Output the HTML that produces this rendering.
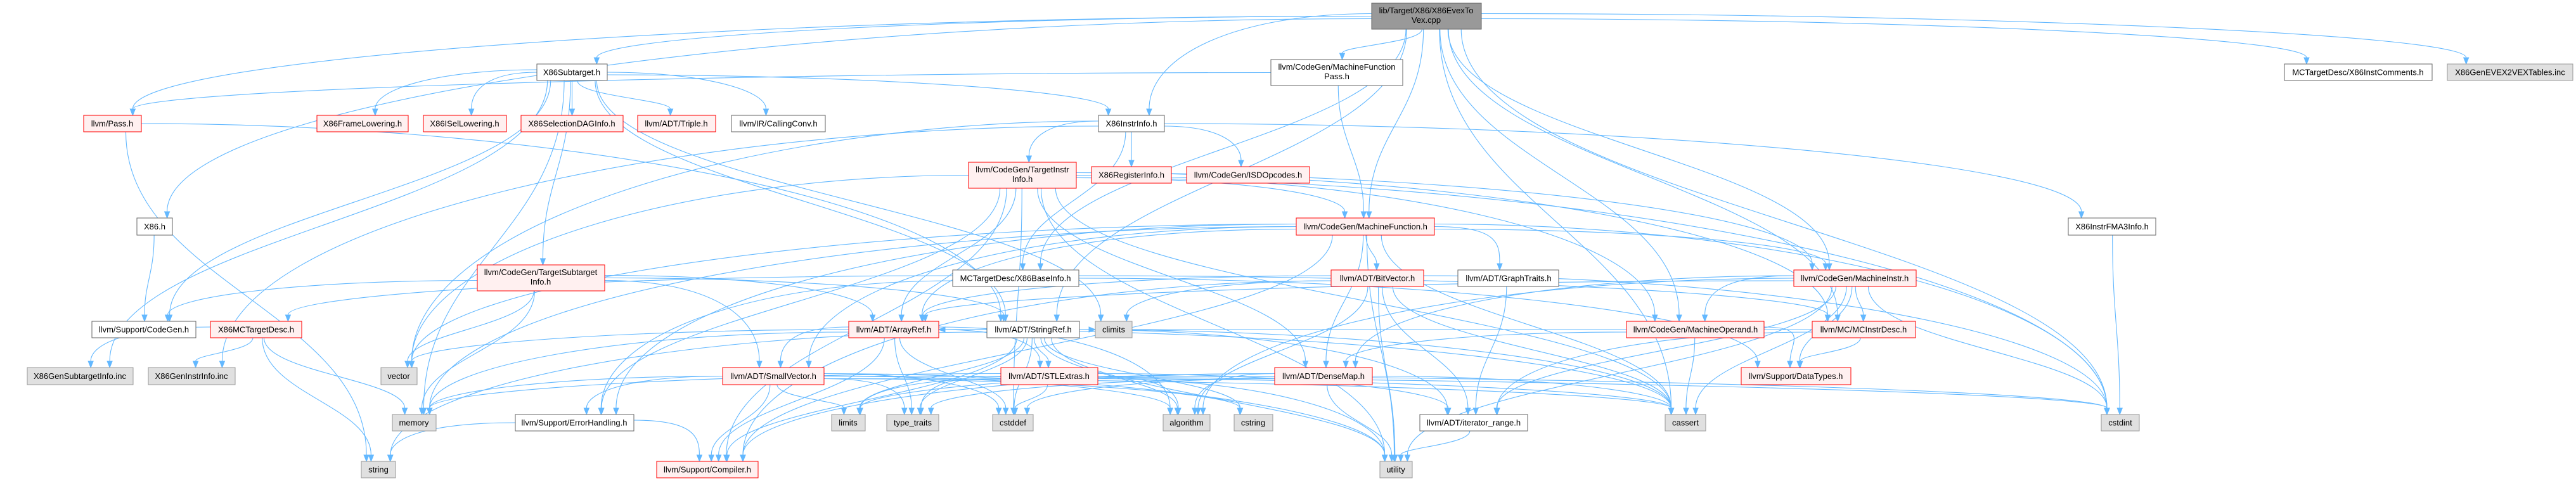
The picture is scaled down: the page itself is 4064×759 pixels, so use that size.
<!DOCTYPE html>
<html><head><meta charset="utf-8">
<style>
html,body{margin:0;padding:0;background:#fff;}
svg{display:block;}
text{font-family:"Liberation Sans",Arial,sans-serif;font-size:13px;fill:#000;}
</style></head>
<body>
<svg id="g" xmlns="http://www.w3.org/2000/svg" width="4064" height="759" viewBox="0 0 4064 759">
<g id="edges" fill="none" stroke="#63b8ff" stroke-width="1.1"></g>
<g id="arrows" fill="#63b8ff" stroke="#63b8ff"></g>
<g id="nodes" text-anchor="middle">
<rect x="2164" y="5" width="173" height="41" fill="#999999" stroke="#666666"/><text x="2250" y="21">lib/Target/X86/X86EvexTo</text><text x="2250" y="36">Vex.cpp</text>
<rect x="2005" y="94" width="208" height="41" fill="#ffffff" stroke="#666666"/><text x="2109" y="110">llvm/CodeGen/MachineFunction</text><text x="2109" y="125">Pass.h</text>
<rect x="847" y="101" width="111" height="26" fill="#ffffff" stroke="#666666"/><text x="902" y="118.5">X86Subtarget.h</text>
<rect x="3604" y="101" width="233" height="26" fill="#ffffff" stroke="#666666"/><text x="3720" y="118.5">MCTargetDesc/X86InstComments.h</text>
<rect x="3861" y="101" width="198" height="26" fill="#e0e0e0" stroke="#999999"/><text x="3960" y="118.5">X86GenEVEX2VEXTables.inc</text>
<rect x="132" y="182" width="91" height="26" fill="#fff0f0" stroke="#ff0000"/><text x="177" y="199.5">llvm/Pass.h</text>
<rect x="500" y="182" width="144" height="26" fill="#fff0f0" stroke="#ff0000"/><text x="572" y="199.5">X86FrameLowering.h</text>
<rect x="668" y="182" width="131" height="26" fill="#fff0f0" stroke="#ff0000"/><text x="733" y="199.5">X86ISelLowering.h</text>
<rect x="822" y="182" width="161" height="26" fill="#fff0f0" stroke="#ff0000"/><text x="902" y="199.5">X86SelectionDAGInfo.h</text>
<rect x="1006" y="182" width="123" height="26" fill="#fff0f0" stroke="#ff0000"/><text x="1067" y="199.5">llvm/ADT/Triple.h</text>
<rect x="1154" y="182" width="148" height="26" fill="#ffffff" stroke="#666666"/><text x="1228" y="199.5">llvm/IR/CallingConv.h</text>
<rect x="1733" y="182" width="104" height="26" fill="#ffffff" stroke="#666666"/><text x="1785" y="199.5">X86InstrInfo.h</text>
<rect x="1528" y="256" width="170" height="41" fill="#fff0f0" stroke="#ff0000"/><text x="1613" y="272">llvm/CodeGen/TargetInstr</text><text x="1613" y="287">Info.h</text>
<rect x="1722" y="263" width="126" height="26" fill="#fff0f0" stroke="#ff0000"/><text x="1785" y="280.5">X86RegisterInfo.h</text>
<rect x="1872" y="263" width="194" height="26" fill="#fff0f0" stroke="#ff0000"/><text x="1969" y="280.5">llvm/CodeGen/ISDOpcodes.h</text>
<rect x="216" y="344" width="56" height="27" fill="#ffffff" stroke="#666666"/><text x="244" y="362">X86.h</text>
<rect x="2045" y="344" width="218" height="27" fill="#fff0f0" stroke="#ff0000"/><text x="2154" y="362">llvm/CodeGen/MachineFunction.h</text>
<rect x="3263" y="344" width="138" height="27" fill="#ffffff" stroke="#666666"/><text x="3332" y="362">X86InstrFMA3Info.h</text>
<rect x="753" y="418" width="201" height="41" fill="#fff0f0" stroke="#ff0000"/><text x="853" y="434">llvm/CodeGen/TargetSubtarget</text><text x="853" y="449">Info.h</text>
<rect x="1503" y="426" width="199" height="26" fill="#ffffff" stroke="#666666"/><text x="1602" y="443.5">MCTargetDesc/X86BaseInfo.h</text>
<rect x="2100" y="426" width="146" height="26" fill="#fff0f0" stroke="#ff0000"/><text x="2173" y="443.5">llvm/ADT/BitVector.h</text>
<rect x="2300" y="426" width="159" height="26" fill="#ffffff" stroke="#666666"/><text x="2380" y="443.5">llvm/ADT/GraphTraits.h</text>
<rect x="2830" y="426" width="193" height="26" fill="#fff0f0" stroke="#ff0000"/><text x="2926" y="443.5">llvm/CodeGen/MachineInstr.h</text>
<rect x="145" y="507" width="164" height="26" fill="#ffffff" stroke="#666666"/><text x="227" y="524.5">llvm/Support/CodeGen.h</text>
<rect x="332" y="507" width="144" height="26" fill="#fff0f0" stroke="#ff0000"/><text x="404" y="524.5">X86MCTargetDesc.h</text>
<rect x="1339" y="507" width="142" height="26" fill="#fff0f0" stroke="#ff0000"/><text x="1410" y="524.5">llvm/ADT/ArrayRef.h</text>
<rect x="1557" y="507" width="146" height="26" fill="#ffffff" stroke="#666666"/><text x="1630" y="524.5">llvm/ADT/StringRef.h</text>
<rect x="1728" y="507" width="58" height="26" fill="#e0e0e0" stroke="#999999"/><text x="1757" y="524.5">climits</text>
<rect x="2566" y="507" width="217" height="26" fill="#fff0f0" stroke="#ff0000"/><text x="2675" y="524.5">llvm/CodeGen/MachineOperand.h</text>
<rect x="2859" y="507" width="163" height="26" fill="#fff0f0" stroke="#ff0000"/><text x="2940" y="524.5">llvm/MC/MCInstrDesc.h</text>
<rect x="43" y="580" width="167" height="27" fill="#e0e0e0" stroke="#999999"/><text x="126" y="598">X86GenSubtargetInfo.inc</text>
<rect x="234" y="580" width="137" height="27" fill="#e0e0e0" stroke="#999999"/><text x="302" y="598">X86GenInstrInfo.inc</text>
<rect x="601" y="580" width="57" height="27" fill="#e0e0e0" stroke="#999999"/><text x="629" y="598">vector</text>
<rect x="1140" y="580" width="160" height="27" fill="#fff0f0" stroke="#ff0000"/><text x="1220" y="598">llvm/ADT/SmallVector.h</text>
<rect x="1579" y="580" width="153" height="27" fill="#fff0f0" stroke="#ff0000"/><text x="1655" y="598">llvm/ADT/STLExtras.h</text>
<rect x="2011" y="580" width="154" height="27" fill="#fff0f0" stroke="#ff0000"/><text x="2088" y="598">llvm/ADT/DenseMap.h</text>
<rect x="2747" y="580" width="173" height="27" fill="#fff0f0" stroke="#ff0000"/><text x="2833" y="598">llvm/Support/DataTypes.h</text>
<rect x="619" y="654" width="69" height="26" fill="#e0e0e0" stroke="#999999"/><text x="653" y="671.5">memory</text>
<rect x="813" y="654" width="187" height="26" fill="#ffffff" stroke="#666666"/><text x="906" y="671.5">llvm/Support/ErrorHandling.h</text>
<rect x="1312" y="654" width="53" height="26" fill="#e0e0e0" stroke="#999999"/><text x="1338" y="671.5">limits</text>
<rect x="1399" y="654" width="82" height="26" fill="#e0e0e0" stroke="#999999"/><text x="1440" y="671.5">type_traits</text>
<rect x="1566" y="654" width="64" height="26" fill="#e0e0e0" stroke="#999999"/><text x="1598" y="671.5">cstddef</text>
<rect x="1835" y="654" width="74" height="26" fill="#e0e0e0" stroke="#999999"/><text x="1872" y="671.5">algorithm</text>
<rect x="1947" y="654" width="61" height="26" fill="#e0e0e0" stroke="#999999"/><text x="1977" y="671.5">cstring</text>
<rect x="2240" y="654" width="170" height="26" fill="#ffffff" stroke="#666666"/><text x="2325" y="671.5">llvm/ADT/iterator_range.h</text>
<rect x="2627" y="654" width="64" height="26" fill="#e0e0e0" stroke="#999999"/><text x="2659" y="671.5">cassert</text>
<rect x="3315" y="654" width="60" height="26" fill="#e0e0e0" stroke="#999999"/><text x="3345" y="671.5">cstdint</text>
<rect x="570" y="728" width="54" height="26" fill="#e0e0e0" stroke="#999999"/><text x="597" y="745.5">string</text>
<rect x="1036" y="728" width="160" height="26" fill="#fff0f0" stroke="#ff0000"/><text x="1116" y="745.5">llvm/Support/Compiler.h</text>
<rect x="2177" y="728" width="51" height="26" fill="#e0e0e0" stroke="#999999"/><text x="2202" y="745.5">utility</text>
</g>
</svg>
<script>
(function(){
var N={
top:[2164,5,2337,46],mfp:[2005,94,2213,135],sub:[847,101,958,127],ic:[3604,101,3837,127],evex:[3861,101,4059,127],
pass:[132,182,223,208],fl:[500,182,644,208],isl:[668,182,799,208],sdag:[822,182,983,208],tri:[1006,182,1129,208],cc:[1154,182,1302,208],ii:[1733,182,1837,208],
tii:[1528,256,1698,297],ri:[1722,263,1848,289],isd:[1872,263,2066,289],
x86:[216,344,272,371],mf:[2045,344,2263,371],fma:[3263,344,3401,371],
tsi:[753,418,954,459],bi:[1503,426,1702,452],bv:[2100,426,2246,452],gt:[2300,426,2459,452],mi:[2830,426,3023,452],
cg:[145,507,309,533],mcd:[332,507,476,533],ar:[1339,507,1481,533],sr:[1557,507,1703,533],cl:[1728,507,1786,533],mo:[2566,507,2783,533],mid:[2859,507,3022,533],
gsi:[43,580,210,607],gii:[234,580,371,607],vec:[601,580,658,607],sv:[1140,580,1300,607],stl:[1579,580,1732,607],dm:[2011,580,2165,607],dt:[2747,580,2920,607],
mem:[619,654,688,680],eh:[813,654,1000,680],lim:[1312,654,1365,680],tt:[1399,654,1481,680],csd:[1566,654,1630,680],alg:[1835,654,1909,680],cstr:[1947,654,2008,680],ir:[2240,654,2410,680],ca:[2627,654,2691,680],ci:[3315,654,3375,680],
str:[570,728,624,754],comp:[1036,728,1196,754],ut:[2177,728,2228,754]};
var E={
top:"mfp sub ic evex pass x86 ii bi mf mi mo mid sr ca ci",
mfp:"mf pass",
sub:"fl isl sdag tri cc ii tsi gsi cl mem sr cg",
pass:"str sr",
ii:"tii ri isd bi fma gii vec",
tii:"ar dm mf mi mo eh ca csd ci ut vec comp mid",
x86:"cg",
mf:"bv gt ar dm sv mi eh comp ca ci mem ut vec",
tsi:"ar sr cg mem vec sv",
bi:"mcd dt eh mid",
mcd:"gsi gii mem str",
bv:"ar ir comp alg ca cl ci ut",
gt:"ir",
mi:"mo mid ar dm ir ca ci alg ut dt",
mo:"dt ca dm",
mid:"dt ar ir",
ar:"sv stl comp alg ca csd tt vec mem",
sr:"stl ir comp alg ca csd cstr lim str tt ut cl",
sv:"comp alg ca csd ci cstr lim mem tt ut eh",
stl:"ir alg ca csd ci lim mem tt ut",
dm:"alg ca csd lim ut tt comp",
eh:"comp str",
ir:"ut",
fma:"ci"};
var eg=document.getElementById('edges'),ag=document.getElementById('arrows');
var ns='http://www.w3.org/2000/svg';
function arrow(x,y,px,py){var dx=x-px,dy=y-py,l=Math.sqrt(dx*dx+dy*dy)||1;dx/=l;dy/=l;
var bx=x-dx*10,by=y-dy*10,p=ns;var a=document.createElementNS(p,'polygon');
a.setAttribute('points',x+','+y+' '+(bx-dy*4)+','+(by+dx*4)+' '+(bx+dy*4)+','+(by-dx*4));ag.appendChild(a);}
for(var s in E){E[s].split(' ').forEach(function(t,i){
var a=N[s],b=N[t];if(!b)return;
var sx=(a[0]+a[2])/2,tx=(b[0]+b[2])/2,sy,ty,c1x,c1y,c2x,c2y,ex,ey;
var tw=(b[2]-b[0]);var off=Math.max(-tw*0.35,Math.min(tw*0.35,(sx-tx)*0.06));
if(b[1]>a[3]+5){
 var dy=b[1]-a[3],dx=tx-sx;
 if(Math.abs(dx)>3*dy){
  sy=(a[1]+a[3])/2+((i%3)-1)*4;sx=dx<0?a[0]:a[2];
  ex=tx+off;ey=b[1];
  c1x=sx+dx*0.45;c1y=sy;c2x=ex;c2y=ey-(ey-sy)*0.6;
 } else {
  sy=a[3];sx=sx+Math.max(-(a[2]-a[0])*0.35,Math.min((a[2]-a[0])*0.35,dx*0.05));
  ex=tx+off;ey=b[1];
  c1x=sx;c1y=sy+dy*0.45;c2x=ex;c2y=ey-dy*0.45;
 }
} else {
 // same row or upward: side to side
 sy=(a[1]+a[3])/2;ey=(b[1]+b[3])/2;
 if(tx>sx){sx=a[2];ex=b[0];}else{sx=a[0];ex=b[2];}
 c1x=sx+(ex-sx)*0.4;c1y=sy;c2x=sx+(ex-sx)*0.6;c2y=ey;
}
var ax=ex,ay=ey;
var dx2=ax-c2x,dy2=ay-c2y,l2=Math.sqrt(dx2*dx2+dy2*dy2)||1;
var lx=ax-dx2/l2*10,ly=ay-dy2/l2*10;
var p=document.createElementNS(ns,'path');
p.setAttribute('d','M'+sx+','+sy+' C'+c1x+','+c1y+' '+c2x+','+c2y+' '+lx+','+ly);
eg.appendChild(p);arrow(ax,ay,c2x,c2y);
});}
})();
</script>
</body></html>
